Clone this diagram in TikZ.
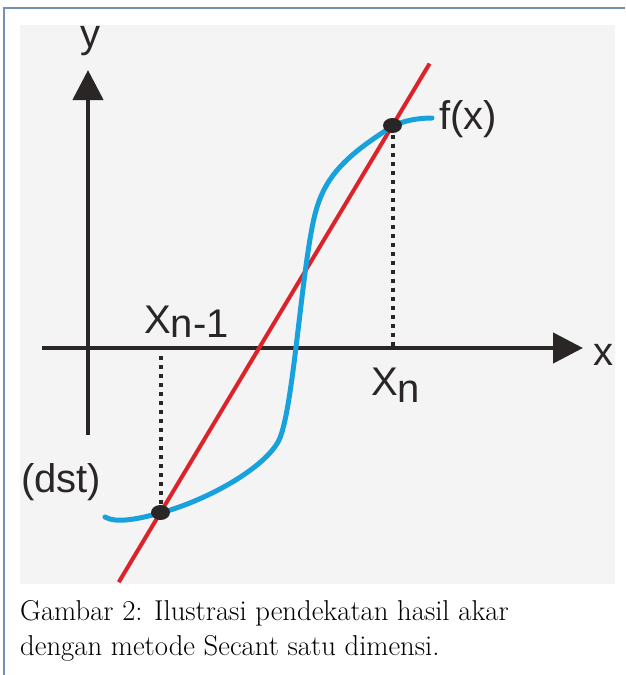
\documentclass[tikz,border=0pt]{standalone}
\usepackage{fontspec}
\newfontfamily\labfont{Liberation Sans}
\usetikzlibrary{arrows.meta,shapes.geometric,calc}
\definecolor{bggray}{HTML}{F4F4F4}
\definecolor{framec}{HTML}{7391B2}
\definecolor{axisc}{HTML}{2B2626}
\definecolor{redc}{HTML}{DC2329}
\definecolor{bluec}{HTML}{17A2DE}
\tikzset{
  axisline/.style={line width=4.5pt,draw=axisc,-{Triangle[length=30pt,width=30pt]}},
  lab/.style={inner sep=0pt,text=axisc,font=\labfont\fontsize{40}{48}\selectfont},
  dotmark/.style={ellipse,fill=axisc,inner sep=0pt,minimum width=19pt,minimum height=15pt},
  dotline/.style={draw=axisc,line width=4pt,dash pattern=on 4pt off 5pt},
  captext/.style={inner sep=0pt,anchor=base west,font=\fontsize{28.7}{35}\selectfont}
}
\begin{document}
\begin{tikzpicture}[x=1pt,y=-1pt]
\useasboundingbox (0,0) rectangle (625,675);
% frame
\fill[bggray] (20,25) rectangle (615,584);
\draw[framec,line width=2.5pt] (4,675) -- (4,8) -- (625,8);
% axes
\coordinate (yb) at (88,435);
\coordinate (yt) at (88,70);
\coordinate (xl) at (42,348);
\coordinate (xr) at (583,348);
\draw[axisline] (yb) -- (yt);
\draw[axisline] (xl) -- (xr);
% points
\coordinate (p1c) at (160.5,512.5);
\coordinate (p2c) at (392.5,125.5);
\coordinate (a1) at (160.5,352);
\coordinate (a2) at (392.5,346);
% dotted lines
\draw[dotline] (p1c) -- (a1);
\draw[dotline] (p2c) -- (a2);
% secant
\draw[redc,line width=4pt] ($(p1c)!-0.18!(p2c)$) -- ($(p2c)!-0.16!(p1c)$);
% curve
\draw[bluec,line width=5pt,line cap=round]
  (105,517) .. controls (115,523) and (135,520) .. (160,513)
  .. controls (205,501) and (262,470) .. (278,442)
  .. controls (292,418) and (300,290) .. (312,228)
  .. controls (320,185) and (335,162) .. (393,126)
  .. controls (405,120) and (420,118) .. (432,118);
\node[dotmark] (p1) at (p1c) {};
\node[dotmark] (p2) at (p2c) {};
% labels
\node[lab,anchor=base] (ly) at (90,47) {y};
\node[lab,anchor=base] (lx) at (603,365) {x};
\node[lab,anchor=base west] (lf) at (439,129) {f(x)};
\node[lab,anchor=base west] (ld) at (21,492) {(dst)};
\node[lab,anchor=base west] (lxn1) at (144,333) {X\raisebox{-4pt}{n-1}};
\node[lab,anchor=base west] (lxn) at (371,395) {X\raisebox{-7pt}{n}};
% caption
\node[captext] (c1) at (20,620) {Gambar 2: Ilustrasi pendekatan hasil akar};
\node[captext] (c2) at (20,655) {dengan metode Secant satu dimensi.};
\end{tikzpicture}
\end{document}
